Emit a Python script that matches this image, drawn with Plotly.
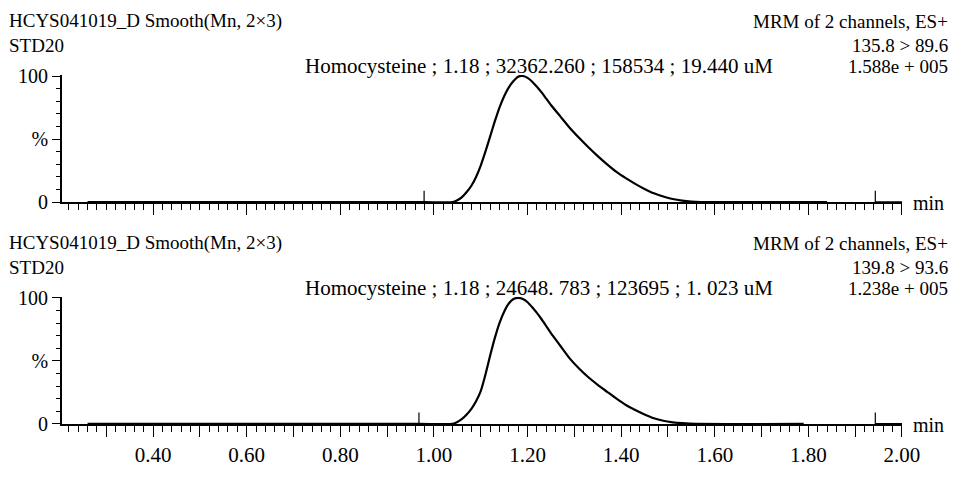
import plotly.graph_objects as go

# ---------------- data ----------------
# Channel 1 : 135.8 > 89.6  (time in min, intensity in %)
t1 = [0.26, 0.98, 1.040, 1.050, 1.060, 1.070, 1.080, 1.090, 1.100, 1.110, 1.120,
      1.130, 1.140, 1.150, 1.160, 1.170, 1.180, 1.190, 1.200, 1.210, 1.220, 1.230,
      1.240, 1.250, 1.270, 1.290, 1.310, 1.330, 1.350, 1.370, 1.390, 1.410, 1.430,
      1.450, 1.470, 1.490, 1.510, 1.530, 1.550, 1.570, 1.84]
y1 = [0, 0, 0, 1.5, 4, 8, 13, 20, 29, 40, 52,
      64, 75, 84, 91, 96, 99.5, 100, 98.5, 95.5, 91.5, 87,
      82, 77, 68, 59, 51, 43.5, 36.5, 30, 24, 19, 14.5,
      10.5, 7, 4.5, 2.5, 1.2, 0.4, 0, 0]

# Channel 2 : 139.8 > 93.6
t2 = [0.26, 0.97, 1.040, 1.050, 1.060, 1.070, 1.080, 1.090, 1.100, 1.110, 1.120,
      1.130, 1.140, 1.150, 1.160, 1.170, 1.180, 1.190, 1.200, 1.210, 1.220, 1.230,
      1.240, 1.250, 1.270, 1.290, 1.310, 1.330, 1.350, 1.370, 1.390, 1.410, 1.430,
      1.450, 1.470, 1.490, 1.510, 1.530, 1.560, 1.79]
y2 = [0, 0, 0, 1.5, 4, 7.5, 12, 18, 26, 39, 54,
      68, 80, 89, 95.5, 99, 100, 99, 96.5, 92.5, 88, 83,
      77.5, 72, 62, 52, 44, 37, 31, 25.5, 20, 15, 11,
      7.5, 4.5, 2.5, 1.3, 0.6, 0, 0]

# integration markers (start, end) per channel
mark1 = [0.979, 1.943]
mark2 = [0.968, 1.943]
mark_h = 9
end_seg = [1.943, 2.0]

header_left = ["HCYS041019_D Smooth(Mn, 2\u00d73)", "STD20"]
right1 = ["MRM of 2 channels, ES+", "135.8 > 89.6", "1.588e + 005"]
right2 = ["MRM of 2 channels, ES+", "139.8 > 93.6", "1.238e + 005"]
peak1 = "Homocysteine ; 1.18 ; 32362.260 ; 158534 ; 19.440 uM"
peak2 = "Homocysteine ; 1.18 ; 24648. 783 ; 123695 ; 1. 023 uM"

x_major = [round(0.3 + 0.1 * i, 2) for i in range(18)]
x_labels = ["0.40", "0.60", "0.80", "1.00", "1.20", "1.40", "1.60", "1.80", "2.00"]
y_vals = [0, 50, 100]
y_text = ["0", "%", "100"]

# ---------------- figure ----------------
W, H = 972, 477
FONT = "Liberation Serif, Times New Roman, Times, DejaVu Serif, serif"
FS_HEAD = 19
FS_PEAK = 21
FS_XTICK = 21
FS_YTICK = 20

def py(px):
    return 1 - px / H

fig = go.Figure()

def add_channel(t, y, marks, xa, ya):
    fig.add_trace(go.Scatter(x=t, y=y, mode="lines", xaxis=xa, yaxis=ya,
                             line=dict(color="black", width=2.2, shape="spline", smoothing=0.5),
                             showlegend=False, hoverinfo="skip"))
    for m in marks:
        fig.add_trace(go.Scatter(x=[m, m], y=[0, mark_h], mode="lines", xaxis=xa, yaxis=ya,
                                 line=dict(color="black", width=1.2),
                                 showlegend=False, hoverinfo="skip"))
    fig.add_trace(go.Scatter(x=end_seg, y=[0, 0], mode="lines", xaxis=xa, yaxis=ya,
                             line=dict(color="black", width=2),
                             showlegend=False, hoverinfo="skip"))

add_channel(t1, y1, mark1, "x", "y")
add_channel(t2, y2, mark2, "x2", "y2")

tick_text_full = []
for v in x_major:
    s = f"{v:.2f}"
    tick_text_full.append(s if s in x_labels else "")

xdom = [63 / W, 919 / W]
top_dom = [py(201), py(68)]
bot_dom = [py(433), py(300)]

def xaxis(anchor, show_labels):
    return dict(domain=xdom, anchor=anchor, range=[0.205, 2.0],
                showline=True, linecolor="black", linewidth=1.5,
                showgrid=False, zeroline=False,
                tickmode="array", tickvals=x_major, ticktext=tick_text_full,
                ticks="outside", ticklen=11, tickwidth=1, tickcolor="black",
                showticklabels=show_labels,
                tickfont=dict(family=FONT, size=FS_XTICK, color="black"),
                minor=dict(tickmode="linear", tick0=0, dtick=0.02, ticks="outside",
                           ticklen=6, tickwidth=1, tickcolor="black", showgrid=False))

def yaxis(anchor, dom):
    return dict(domain=dom, anchor=anchor, range=[0, 100.8],
                showline=True, linecolor="black", linewidth=1.5,
                showgrid=False, zeroline=False,
                tickmode="array", tickvals=y_vals, ticktext=y_text,
                ticks="outside", ticklen=8, tickwidth=1, tickcolor="black",
                tickfont=dict(family=FONT, size=FS_YTICK, color="black"),
                minor=dict(tickmode="linear", tick0=0, dtick=10, ticks="outside",
                           ticklen=4, tickwidth=1, tickcolor="black", showgrid=False))

fig.update_layout(
    width=W, height=H, autosize=False,
    margin=dict(l=0, r=0, t=0, b=0),
    paper_bgcolor="white", plot_bgcolor="white",
    font=dict(family=FONT, size=FS_HEAD, color="black"),
    xaxis=xaxis("y", False), yaxis=yaxis("x", top_dom),
    xaxis2=xaxis("y2", True), yaxis2=yaxis("x2", bot_dom),
)

ann = []
def txt(text, x, y, xanchor, size):
    ann.append(dict(text=text, x=x / W, y=py(y), xref="paper", yref="paper",
                    xanchor=xanchor, yanchor="middle", showarrow=False,
                    font=dict(family=FONT, size=size, color="black")))

for off, right, peak in [(0, right1, peak1), (232, right2, peak2)]:
    txt(header_left[0], 7, 12 + off, "left", FS_HEAD)
    txt(header_left[1], 7, 37 + off, "left", FS_HEAD)
    txt(right[0], 968, 12 + off, "right", FS_HEAD)
    txt(right[1], 968, 37 + off, "right", FS_HEAD)
    txt(right[2], 968, 59 + off, "right", FS_HEAD)
    txt(peak, 309, 59 + off, "left", FS_PEAK)
    txt("min", 928, 202 + off, "left", FS_YTICK)

fig.update_layout(annotations=ann)
fig.write_html("out.html")
